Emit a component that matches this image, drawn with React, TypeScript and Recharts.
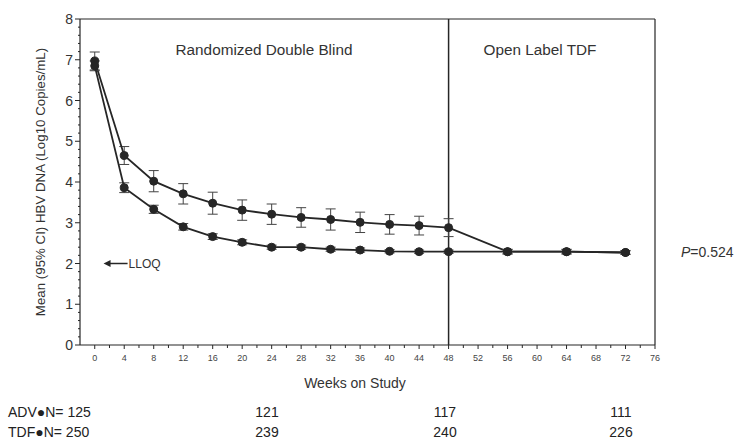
import React from "react";
import {
  ComposedChart,
  Line,
  XAxis,
  YAxis,
  ErrorBar,
  ReferenceLine,
  ReferenceDot,
} from "recharts";

const weeks = [0, 4, 8, 12, 16, 20, 24, 28, 32, 36, 40, 44, 48, 56, 64, 72];
const advMean = [6.97, 4.65, 4.02, 3.71, 3.48, 3.31, 3.21, 3.13, 3.08, 3.01, 2.96, 2.93, 2.88, 2.29, 2.29, 2.27];
const advCI = [0.22, 0.22, 0.26, 0.25, 0.27, 0.25, 0.25, 0.24, 0.26, 0.25, 0.24, 0.23, 0.22, 0.06, 0.06, 0.05];
const tdfMean = [6.85, 3.86, 3.33, 2.9, 2.66, 2.52, 2.4, 2.4, 2.35, 2.33, 2.3, 2.29, 2.29, 2.29, 2.29, 2.27];
const tdfCI = [0.12, 0.12, 0.1, 0.08, 0.07, 0.06, 0.05, 0.05, 0.05, 0.05, 0.04, 0.04, 0.04, 0.05, 0.05, 0.04];

const advN = ["125", "121", "117", "111"];
const tdfN = ["250", "239", "240", "226"];

const lloqValue = 2;

const xAllTicks = Array.from({ length: 39 }, (_, i) => i * 2);
const yAllTicks = Array.from({ length: 41 }, (_, i) => Math.round(i * 20) / 100);

const data = weeks.map((w, i) => ({
  week: w,
  adv: advMean[i],
  advErr: advCI[i],
  tdf: tdfMean[i],
  tdfErr: tdfCI[i],
}));

const INK = "#262626";
const FONT = "'Liberation Sans', Arial, Helvetica, sans-serif";
const NARROW = "'Liberation Sans Narrow', 'Arial Narrow', 'Liberation Sans', sans-serif";

const XTick = (props: any) => {
  const { x, y, payload } = props;
  const v = payload.value;
  const major = v % 4 === 0;
  return (
    <g>
      <line x1={x} y1={y} x2={x} y2={y + (major ? 4 : 3)} stroke={INK} strokeWidth={1} />
      {major && (
        <text x={x} y={y + 16} textAnchor="middle" fontSize={9} fill="#444" fontFamily={FONT}>
          {v}
        </text>
      )}
    </g>
  );
};

const YTick = (props: any) => {
  const { x, y, payload } = props;
  const v = payload.value;
  const major = Math.abs(v - Math.round(v)) < 1e-6;
  return (
    <g>
      <line x1={x} y1={y} x2={x - (major ? 5 : 2)} y2={y} stroke={INK} strokeWidth={1} />
      {major && (
        <text x={x - 7} y={y + 5} textAnchor="end" fontSize={14} fill="#333" fontFamily={FONT}>
          {v}
        </text>
      )}
    </g>
  );
};

const LloqShape = (props: any) => {
  const { cx, cy } = props;
  if (cx == null || cy == null) return null;
  return (
    <g>
      <line x1={cx + 4} y1={cy} x2={cx + 24} y2={cy} stroke={INK} strokeWidth={1.5} />
      <path d={`M${cx},${cy} L${cx + 7},${cy - 3.5} L${cx + 7},${cy + 3.5} Z`} fill={INK} />
      <text x={cx + 25} y={cy + 4.5} fontSize={12} fill="#333" fontFamily={FONT}>
        LLOQ
      </text>
    </g>
  );
};

const Dot = (props: any) => {
  const { cx, cy } = props;
  if (cx == null || cy == null) return null;
  return <circle cx={cx} cy={cy} r={4} fill={INK} stroke={INK} />;
};

export default function App() {
  const colX = [267, 445, 621];
  return (
    <div
      style={{
        position: "absolute",
        left: 0,
        top: 0,
        width: 739,
        height: 442,
        background: "#fff",
        fontFamily: FONT,
        color: "#222",
      }}
    >
      <ComposedChart
        width={739}
        height={442}
        data={data}
        margin={{ top: 19, right: 84, left: 40, bottom: 67 }}
      >
        <XAxis
          dataKey="week"
          type="number"
          domain={[-2, 76]}
          ticks={xAllTicks}
          interval={0}
          tick={<XTick />}
          tickLine={false}
          tickSize={0}
          tickMargin={0}
          height={30}
          axisLine={{ stroke: INK, strokeWidth: 1.2 }}
        />
        <YAxis
          type="number"
          domain={[0, 8]}
          ticks={yAllTicks}
          interval={0}
          tick={<YTick />}
          tickLine={false}
          tickSize={0}
          tickMargin={0}
          width={40}
          axisLine={{ stroke: INK, strokeWidth: 1.2 }}
        />
        <ReferenceLine y={8} stroke={INK} strokeWidth={1.2} />
        <ReferenceLine x={76} stroke={INK} strokeWidth={1.2} />
        <ReferenceLine x={48} stroke={INK} strokeWidth={1.5} />
        <Line
          type="linear"
          dataKey="adv"
          stroke={INK}
          strokeWidth={1.8}
          dot={<Dot />}
          isAnimationActive={false}
        >
          <ErrorBar dataKey="advErr" width={5} stroke="#444" strokeWidth={1} />
        </Line>
        <Line
          type="linear"
          dataKey="tdf"
          stroke={INK}
          strokeWidth={1.8}
          dot={<Dot />}
          isAnimationActive={false}
        >
          <ErrorBar dataKey="tdfErr" width={5} stroke="#444" strokeWidth={1} />
        </Line>
        <ReferenceDot x={1.2} y={lloqValue} shape={<LloqShape />} />
      </ComposedChart>

      <div style={{ position: "absolute", left: 264, top: 50, transform: "translate(-50%,-50%)", fontSize: 15.3, whiteSpace: "nowrap", color: "#333" }}>
        Randomized Double Blind
      </div>
      <div style={{ position: "absolute", left: 540, top: 50, transform: "translate(-50%,-50%)", fontSize: 15.3, whiteSpace: "nowrap", color: "#333" }}>
        Open Label TDF
      </div>
      <div style={{ position: "absolute", left: 681, top: 252, transform: "translateY(-50%)", fontSize: 14, whiteSpace: "nowrap", color: "#333" }}>
        <i>P</i>=0.524
      </div>
      <div
        style={{
          position: "absolute",
          left: 40,
          top: 182,
          transform: "translate(-50%,-50%) rotate(-90deg)",
          fontSize: 13.3,
          whiteSpace: "nowrap",
          color: "#333",
        }}
      >
        Mean (95% CI) HBV DNA (Log10 Copies/mL)
      </div>
      <div style={{ position: "absolute", left: 355, top: 383, transform: "translate(-50%,-50%)", fontSize: 14, whiteSpace: "nowrap", color: "#333" }}>
        Weeks on Study
      </div>

      <div style={{ position: "absolute", left: 8, top: 412, transform: "translateY(-50%)", fontSize: 14, fontFamily: NARROW, whiteSpace: "nowrap" }}>
        ADV●N= {advN[0]}
      </div>
      <div style={{ position: "absolute", left: 8, top: 432, transform: "translateY(-50%)", fontSize: 14, fontFamily: NARROW, whiteSpace: "nowrap" }}>
        TDF●N= {tdfN[0]}
      </div>
      {colX.map((cx, i) => (
        <React.Fragment key={cx}>
          <div style={{ position: "absolute", left: cx, top: 412, transform: "translate(-50%,-50%)", fontSize: 14, fontFamily: NARROW }}>
            {advN[i + 1]}
          </div>
          <div style={{ position: "absolute", left: cx, top: 432, transform: "translate(-50%,-50%)", fontSize: 14, fontFamily: NARROW }}>
            {tdfN[i + 1]}
          </div>
        </React.Fragment>
      ))}
    </div>
  );
}
